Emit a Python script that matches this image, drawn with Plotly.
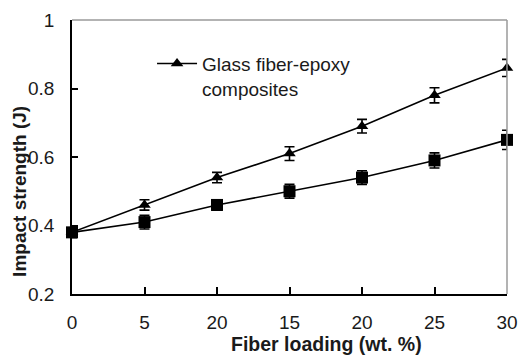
import plotly.graph_objects as go

# Data
fiber_labels = ["0", "5", "20", "15", "20", "25", "30"]
glass_epoxy = [0.38, 0.46, 0.54, 0.61, 0.69, 0.78, 0.86]
glass_epoxy_err = [0.015, 0.015, 0.015, 0.02, 0.02, 0.022, 0.025]
second_series = [0.38, 0.41, 0.46, 0.50, 0.54, 0.59, 0.65]
second_series_err = [0.015, 0.02, 0.015, 0.02, 0.02, 0.022, 0.028]
y_ticks = [0.2, 0.4, 0.6, 0.8, 1.0]
y_ticktext = ["0.2", "0.4", "0.6", "0.8", "1"]

xpos = list(range(len(fiber_labels)))

FONT = "Liberation Sans, Arial, sans-serif"
TXT = "#1a1a1a"
FS = 19

fig = go.Figure()

fig.add_trace(go.Scatter(
    x=xpos, y=second_series, mode="lines+markers", showlegend=False,
    line=dict(color="black", width=1.6),
    marker=dict(symbol="square", size=12, color="black"),
    error_y=dict(type="data", array=second_series_err, color="black", thickness=1.6, width=5),
    cliponaxis=False,
))
fig.add_trace(go.Scatter(
    x=xpos, y=glass_epoxy, mode="lines+markers", name="Glass fiber-epoxy<br>composites",
    line=dict(color="black", width=1.6),
    marker=dict(symbol="triangle-up", size=11, color="black"),
    error_y=dict(type="data", array=glass_epoxy_err, color="black", thickness=1.6, width=5),
    cliponaxis=False,
))

fig.update_layout(
    width=528, height=358,
    margin=dict(l=72, r=10, t=16, b=64),
    paper_bgcolor="white", plot_bgcolor="white",
    font=dict(family=FONT, size=FS, color=TXT),
    showlegend=True,
    legend=dict(x=0.184, y=0.91, xanchor="left", yanchor="top", valign="top",
                bgcolor="rgba(0,0,0,0)", font=dict(size=FS, color=TXT),
                itemwidth=40, tracegroupgap=0),
    xaxis=dict(range=[0, 6], tickmode="array", tickvals=xpos, ticktext=fiber_labels,
               showline=True, linecolor="black", linewidth=1.5, showgrid=False, zeroline=False,
               ticks="inside", ticklen=7, tickwidth=1.5, tickcolor="black", ticklabelstandoff=10,
               ticklabeloverflow="allow"),
    yaxis=dict(range=[0.2, 1.0], tickmode="array", tickvals=y_ticks, ticktext=y_ticktext,
               showline=True, linecolor="black", linewidth=1.5, showgrid=False, zeroline=False,
               ticks="inside", ticklen=6, tickwidth=1.5, tickcolor="black", ticklabelstandoff=12,
               ticklabeloverflow="allow"),
    shapes=[
        dict(type="line", xref="paper", yref="paper", x0=0, x1=1, y0=1, y1=1,
             line=dict(color="#9a9a9a", width=1.5)),
        dict(type="line", xref="paper", yref="paper", x0=1, x1=1, y0=0, y1=1,
             line=dict(color="#9a9a9a", width=1.5)),
    ],
    annotations=[
        dict(text="<b>Fiber loading (wt. %)</b>", xref="paper", yref="paper",
             x=0.585, y=-0.183, xanchor="center", yanchor="middle", showarrow=False,
             font=dict(size=19.5, color=TXT)),
        dict(text="<b>Impact strength (J)</b>", xref="paper", yref="paper",
             x=-0.121, y=0.374, xanchor="center", yanchor="middle", showarrow=False,
             textangle=-90, font=dict(size=FS, color=TXT)),
    ],
)

fig.write_html("out.html", config={"displayModeBar": False},
               post_script="document.body.style.margin='0';")
